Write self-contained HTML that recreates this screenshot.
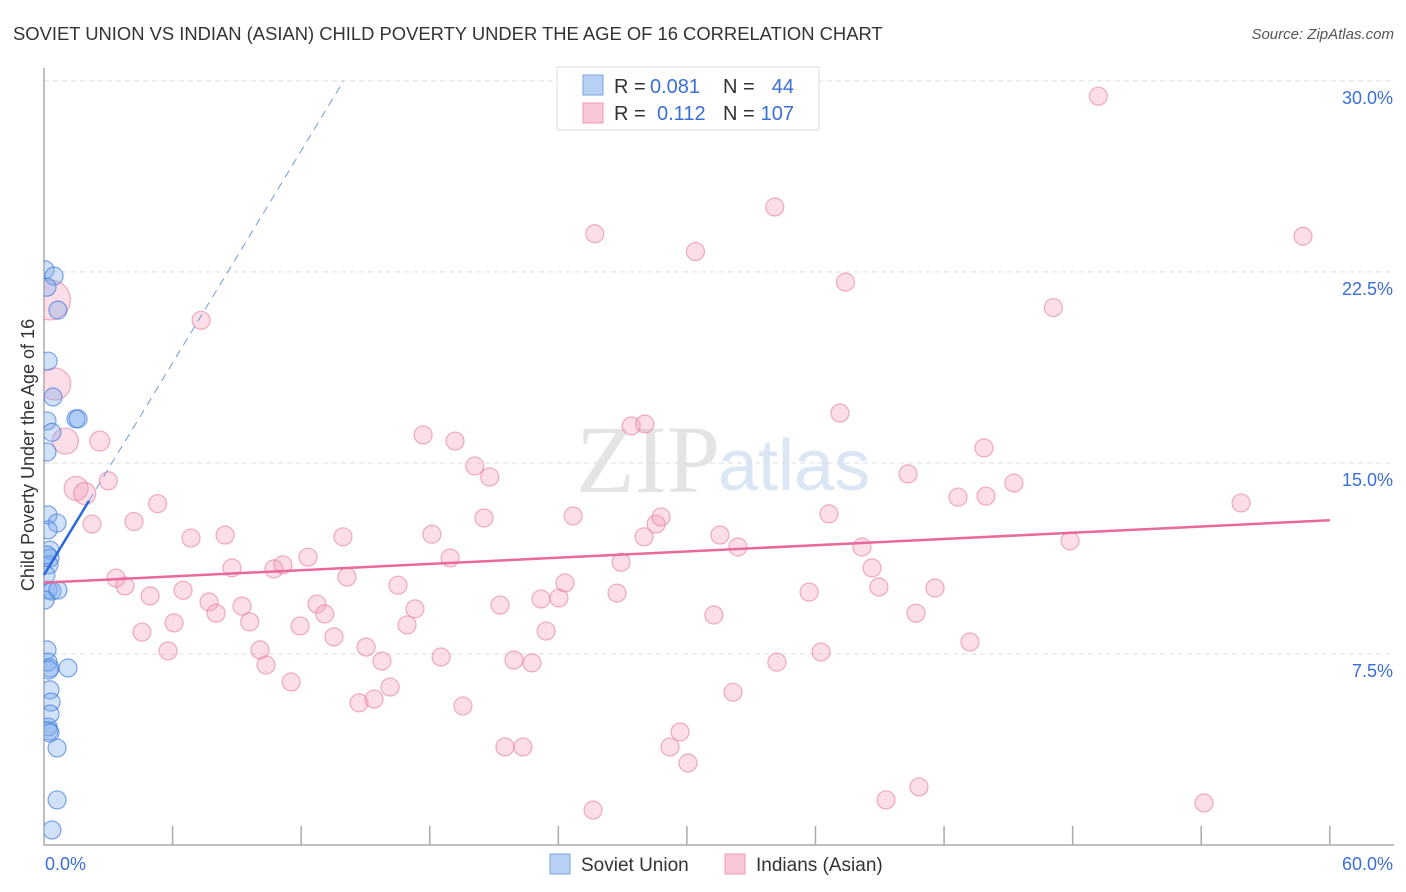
<!DOCTYPE html>
<html><head><meta charset="utf-8"><style>
body{margin:0;background:#fff;font-family:"Liberation Sans",sans-serif;}
svg{display:block}
</style></head><body>
<svg id="chart" width="1406" height="892" xmlns="http://www.w3.org/2000/svg">
<defs><clipPath id="plotclip"><rect x="44" y="60" width="1360" height="786"/></clipPath></defs>
<text x="13" y="40" font-size="18.4" fill="#333">SOVIET UNION VS INDIAN (ASIAN) CHILD POVERTY UNDER THE AGE OF 16 CORRELATION CHART</text>
<text x="1394" y="39" font-size="15" fill="#555" font-style="italic" text-anchor="end">Source: ZipAtlas.com</text>
<text x="720" y="492" font-size="96" fill="#e4e4e4" text-anchor="end" font-family="Liberation Serif,serif">ZIP</text>
<text x="718" y="490" font-size="72" fill="#dbe6f5">atlas</text>
<text transform="translate(34,455) rotate(-90)" font-size="18" fill="#333" text-anchor="middle">Child Poverty Under the Age of 16</text>
<g id="grid"></g><g id="axes"></g><g id="pink" clip-path="url(#plotclip)"></g><g id="blue" clip-path="url(#plotclip)"></g><g id="lines"></g>
<g>
<rect x="557" y="67" width="262" height="63" fill="#fff" stroke="#ddd"/>
<rect x="583" y="75" width="20" height="20" fill="#b8d0f3" stroke="#7aa6e6"/>
<rect x="583" y="103" width="20" height="20" fill="#f9c8d6" stroke="#ee9ab3"/>
<text x="614" y="93" font-size="20" fill="#333">R =</text>
<text x="650" y="93" font-size="20" fill="#3a6fd6">0.081</text>
<text x="723" y="93" font-size="20" fill="#333">N =</text>
<text x="794" y="93" font-size="20" fill="#3a6fd6" text-anchor="end">44</text>
<text x="614" y="120" font-size="20" fill="#333">R =</text>
<text x="657" y="120" font-size="20" fill="#3a6fd6">0.112</text>
<text x="723" y="120" font-size="20" fill="#333">N =</text>
<text x="794" y="120" font-size="20" fill="#3a6fd6" text-anchor="end">107</text>
</g>
<g>
<rect x="550" y="854" width="20" height="20" fill="#b8d0f3" stroke="#7aa6e6"/>
<text x="581" y="871" font-size="19" fill="#333">Soviet Union</text>
<rect x="725" y="854" width="20" height="20" fill="#f9c8d6" stroke="#ee9ab3"/>
<text x="756" y="871" font-size="19" fill="#333">Indians (Asian)</text>
</g>
</svg>
<script>
const yTicks=[7.5,15,22.5,30];
const yTickLabels=["7.5%","15.0%","22.5%","30.0%"];
const xTickCount=10;
const xLabels=["0.0%","60.0%"];
const pinkX=[49.2,58.75,34.1,25.7,30.4,37.4,47.1,7.33,0.3,0.5,1.0,2.6,1.5,1.9,3.0,2.24,4.2,5.3,6.86,8.45,8.77,3.36,3.78,4.95,6.49,7.7,8.03,9.24,9.6,4.57,6.07,5.79,10.08,10.36,11.53,10.73,11.15,12.32,13.95,14.14,12.74,13.1,11.95,13.53,15.03,15.77,14.7,15.4,16.15,16.52,17.31,16.94,17.69,18.1,18.95,18.53,19.55,19.18,20.1,20.8,20.53,21.28,21.51,22.35,21.93,22.77,23.19,24.03,24.31,23.43,24.69,26.74,26.93,27.4,28.04,28.0,28.56,28.79,29.21,29.68,30.05,31.26,31.54,32.38,32.15,34.2,35.7,36.26,36.63,37.14,38.17,38.64,38.96,39.29,40.32,40.69,40.83,41.58,42.65,43.21,43.86,43.96,45.26,47.88,54.13,55.86,25.62];
const pinkY=[29.4,23.9,25.05,24.0,23.3,22.1,21.1,20.6,21.4,18.1,15.86,15.86,14.0,13.8,14.3,12.6,12.7,13.4,12.05,12.17,10.88,10.48,10.17,9.78,10.0,9.54,9.1,9.38,8.76,8.36,8.72,7.62,7.66,7.07,6.4,10.84,11.0,11.3,12.1,10.52,9.46,9.07,8.6,8.17,7.77,7.22,5.58,5.73,6.2,10.2,9.27,8.64,16.1,12.2,11.27,7.38,5.46,15.86,14.88,14.45,12.84,9.42,3.85,3.85,7.26,7.15,9.66,9.7,10.29,8.4,12.92,9.89,11.1,16.45,16.53,12.1,12.6,12.88,3.85,4.44,3.22,9.03,12.17,11.7,6.0,7.18,9.93,7.58,13.0,16.96,11.7,10.88,10.13,1.77,14.57,9.1,2.28,10.09,13.66,7.97,15.59,13.7,14.21,11.94,1.65,13.43,1.37];
const pinkR=[9,9,9,9,9,9,9,9,20,16,13,10,12,11,9,9,9,9,9,9,9,9,9,9,9,9,9,9,9,9,9,9,9,9,9,9,9,9,9,9,9,9,9,9,9,9,9,9,9,9,9,9,9,9,9,9,9,9,9,9,9,9,9,9,9,9,9,9,9,9,9,9,9,9,9,9,9,9,9,9,9,9,9,9,9,9,9,9,9,9,9,9,9,9,9,9,9,9,9,9,9,9,9,9,9,9,9];
const blueX=[0.05,0.47,0.65,0.14,0.19,0.42,0.14,0.37,0.14,1.49,1.59,0.19,0.61,0.19,0.28,0.28,0.23,0.19,0.37,0.65,0.14,0.19,0.28,0.23,1.12,0.28,0.33,0.28,0.19,0.23,0.28,0.61,0.61,0.37,0.05,0.09,0.14];
const blueY=[22.58,22.34,21.0,21.9,19.0,17.59,16.65,16.2,15.43,16.73,16.73,12.96,12.64,12.37,11.58,11.27,11.0,10.01,9.97,10.01,7.66,7.18,6.95,6.87,6.95,6.09,5.61,5.14,4.63,4.48,4.4,3.81,1.77,0.59,9.62,10.6,11.39];
const blueLine={x0:0,y0:10.6,x1:2.1,slope:1.388};
const pinkLine={x0:0,y0:10.3,x1:60,y1:12.75};
const NS="http://www.w3.org/2000/svg";
const X=v=>44+v*21.43, Y=v=>845-v*25.47;
function mk(tag,attrs,parent){const e=document.createElementNS(NS,tag);for(const k in attrs)e.setAttribute(k,attrs[k]);parent.appendChild(e);return e;}
const grid=document.getElementById('grid'),axes=document.getElementById('axes');
yTicks.forEach((t,i)=>{
 const l=mk('line',{x1:44,x2:1394,y1:Y(t),y2:Y(t),stroke:'#ddd','stroke-dasharray':'5,4'},grid);
 
 
 const tx=mk('text',{x:1393,y:Y(t)+23,'font-size':18,fill:'#3a6fd6','text-anchor':'end'},axes);
 tx.textContent=yTickLabels[i];
 
 
});
const ax=mk('path',{d:'M44,68V845H1394',fill:'none',stroke:'#aaa','stroke-width':1.5},axes);


for(let i=1;i<=xTickCount;i++){const v=i*6;const tk=mk('line',{x1:X(v),x2:X(v),y1:826,y2:845,stroke:'#aaa','stroke-width':1.5},axes);
 
 }
const l0=mk('text',{x:45,y:870,'font-size':18,fill:'#3a6fd6'},axes);l0.textContent=xLabels[0];


const l1=mk('text',{x:1393,y:870,'font-size':18,fill:'#3a6fd6','text-anchor':'end'},axes);l1.textContent=xLabels[1];


const pg=document.getElementById('pink');
pinkX.forEach((x,i)=>{const c=mk('circle',{cx:X(x),cy:Y(pinkY[i]),r:pinkR[i],fill:'rgba(244,160,186,0.35)',stroke:'rgba(232,120,155,0.6)','stroke-width':1.2},pg);
 
 });
const bg=document.getElementById('blue');
blueX.forEach((x,i)=>{const c=mk('circle',{cx:X(x),cy:Y(blueY[i]),r:9,fill:'rgba(120,170,235,0.35)',stroke:'rgba(60,120,220,0.65)','stroke-width':1.2},bg);
 
 });
const lg=document.getElementById('lines');
const yEnd=30, xEnd=(yEnd-blueLine.y0)/blueLine.slope;
const bd=mk('line',{x1:X(blueLine.x1),y1:Y(blueLine.y0+blueLine.slope*blueLine.x1),x2:X(xEnd),y2:Y(yEnd),stroke:'#6f9ae0','stroke-width':1,'stroke-dasharray':'8,6'},lg);


const bs=mk('line',{x1:X(blueLine.x0),y1:Y(blueLine.y0),x2:X(blueLine.x1),y2:Y(blueLine.y0+blueLine.slope*blueLine.x1),stroke:'#2a6ad8','stroke-width':2.5},lg);


const pl=mk('line',{x1:X(pinkLine.x0),y1:Y(pinkLine.y0),x2:X(pinkLine.x1),y2:Y(pinkLine.y1),stroke:'#e8699a','stroke-width':2.5},lg);


</script>
</body></html>
